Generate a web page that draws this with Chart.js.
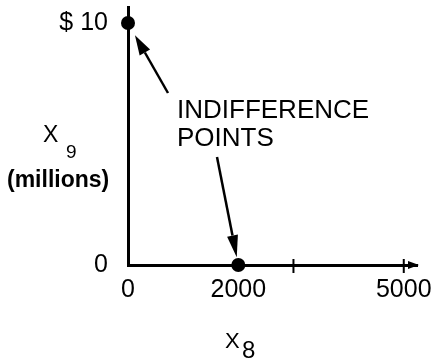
<!DOCTYPE html>
<html>
<head>
<meta charset="utf-8">
<script src="https://cdn.jsdelivr.net/npm/chart.js@4.4.1/dist/chart.umd.min.js"></script>
<style>
  html, body { margin: 0; padding: 0; background: #fff; }
</style>
</head>
<body>
<canvas id="indifferenceChart" width="445" height="362"></canvas>
<script>
// indifference points: (x8, x9)
const pointsX8 = [0, 2000];
const pointsX9 = [10, 0];          // $ millions
const xTickValues = [0, 2000, 3000, 5000];
const xTickLabels = ['0', '2000', '', '5000'];
const yTickValues = [0, 10];
const yTickLabels = ['0', '$ 10'];
const xMax = 5240;
const yMax = 10.66;

const FONT = '"Liberation Sans", Arial, sans-serif';
const INK = '#000';

function drawArrow(ctx, x1, y1, x2, y2, headLen, headWidth) {
    const a = Math.atan2(y2 - y1, x2 - x1);
    const bx = x2 - headLen * Math.cos(a);
    const by = y2 - headLen * Math.sin(a);
    ctx.beginPath();
    ctx.moveTo(x1, y1);
    ctx.lineTo(bx, by);
    ctx.stroke();
    ctx.beginPath();
    ctx.moveTo(x2, y2);
    ctx.lineTo(bx + headWidth / 2 * Math.sin(a), by - headWidth / 2 * Math.cos(a));
    ctx.lineTo(bx - headWidth / 2 * Math.sin(a), by + headWidth / 2 * Math.cos(a));
    ctx.closePath();
    ctx.fill();
}

// arrow from a label tail toward a data point, stopping short of the dot
function arrowToPoint(ctx, tail, px, py, gap, headLen, headWidth) {
    const dx = tail[0] - px;
    const dy = tail[1] - py;
    const d = Math.hypot(dx, dy);
    drawArrow(ctx, tail[0], tail[1], px + dx / d * gap, py + dy / d * gap, headLen, headWidth);
}

const annotations = {
    id: 'annotations',
    afterDraw(chart) {
        const { ctx, chartArea, scales: { x, y } } = chart;
        ctx.save();
        ctx.fillStyle = INK;
        ctx.strokeStyle = INK;

        // x axis tick marks and arrow end
        ctx.lineWidth = 2;
        [3000, 5000].forEach((v) => {
            const px = x.getPixelForValue(v);
            ctx.beginPath();
            ctx.moveTo(px, chartArea.bottom - 6);
            ctx.lineTo(px, chartArea.bottom + 8);
            ctx.stroke();
        });
        const ax = chartArea.right;
        const ay = chartArea.bottom;
        ctx.beginPath();
        ctx.moveTo(ax + 2, ay);
        ctx.lineTo(ax - 9, ay - 4);
        ctx.lineTo(ax - 9, ay + 4);
        ctx.closePath();
        ctx.fill();

        // annotation text
        ctx.textAlign = 'left';
        ctx.textBaseline = 'alphabetic';
        ctx.font = '26px ' + FONT;
        ctx.fillText('INDIFFERENCE', 177, 118);
        ctx.fillText('POINTS', 177, 146);

        // arrows to the two points
        ctx.lineWidth = 2.5;
        arrowToPoint(ctx, [168, 93], x.getPixelForValue(pointsX8[0]), y.getPixelForValue(pointsX9[0]), 14, 20, 12);
        arrowToPoint(ctx, [217, 157], x.getPixelForValue(pointsX8[1]), y.getPixelForValue(pointsX9[1]), 8, 22, 11);

        // y axis title
        ctx.font = '23px ' + FONT;
        ctx.fillText('X', 43, 142);
        ctx.font = '19px ' + FONT;
        ctx.fillText('9', 66, 158);
        ctx.font = 'bold 23px ' + FONT;
        ctx.fillText('(millions)', 7, 187);

        // x axis title
        ctx.font = '22px ' + FONT;
        ctx.fillText('X', 225, 348);
        ctx.font = '24px ' + FONT;
        ctx.fillText('8', 242, 358);

        ctx.restore();
    },
};

new Chart(document.getElementById('indifferenceChart'), {
    type: 'scatter',
    data: {
        datasets: [
            {
                data: pointsX8.map((v, i) => ({ x: v, y: pointsX9[i] })),
                backgroundColor: INK,
                borderWidth: 0,
                pointRadius: 7,
                pointHoverRadius: 7,
                clip: false,
            },
        ],
    },
    options: {
        responsive: false,
        animation: false,
        events: [],
        layout: {
            padding: { top: 7, right: 28, left: 0, bottom: 0 },
        },
        plugins: {
            legend: { display: false },
            tooltip: { enabled: false },
        },
        scales: {
            x: {
                type: 'linear',
                min: 0,
                max: xMax,
                afterBuildTicks: (scale) => {
                    scale.ticks = xTickValues.map((v) => ({ value: v }));
                },
                afterFit: (scale) => {
                    scale.height = 97;
                    scale.paddingLeft = 0;
                    scale.paddingRight = 0;
                },
                ticks: {
                    callback: (value, index) => xTickLabels[index],
                    color: INK,
                    autoSkip: false,
                    maxRotation: 0,
                    padding: 10,
                    font: { family: FONT, size: 25 },
                },
                grid: { display: false, drawTicks: false },
                border: { color: INK, width: 3 },
            },
            y: {
                type: 'linear',
                min: 0,
                max: yMax,
                afterBuildTicks: (scale) => {
                    scale.ticks = yTickValues.map((v) => ({ value: v }));
                },
                afterFit: (scale) => {
                    scale.width = 128;
                    scale.paddingTop = 0;
                    scale.paddingBottom = 0;
                },
                ticks: {
                    callback: (value, index) => yTickLabels[index],
                    color: INK,
                    autoSkip: false,
                    padding: 20,
                    font: { family: FONT, size: 25 },
                },
                grid: { display: false, drawTicks: false },
                border: { color: INK, width: 3 },
            },
        },
    },
    plugins: [annotations],
});
</script>
</body>
</html>
